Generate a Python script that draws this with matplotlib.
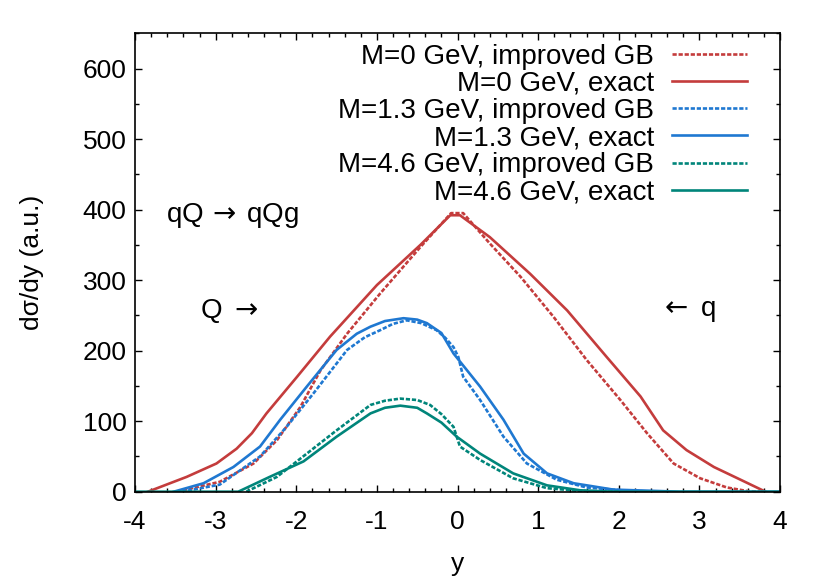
import matplotlib
matplotlib.use("Agg")
import matplotlib.pyplot as plt
from matplotlib.ticker import MultipleLocator, FuncFormatter

plt.rcParams['font.family'] = ['Liberation Sans', 'DejaVu Sans']
plt.rcParams['mathtext.fontset'] = 'dejavusans'

# colours
RED = "#c43c3c"
BLUE = "#1f78d1"
TEAL = "#00857a"

# M = 0 GeV
m0_exact_x = [-3.84, -3.36, -2.99, -2.74, -2.55, -2.37, -1.99, -1.58, -1.00, -0.46, -0.09,
              0.03, 0.40, 0.90, 1.36, 1.85, 2.27, 2.55, 2.84, 3.18, 3.51, 3.82]
m0_exact_y = [0, 21, 40, 61, 83, 111, 163, 220, 293, 350, 392,
              392, 361, 309, 257, 191, 135, 87, 59, 35, 17, 0]
m0_gb_x = [-3.48, -2.95, -2.53, -2.24, -1.95, -1.70, -1.37, -0.96, -0.46, -0.08,
           0.07, 0.40, 0.78, 1.19, 1.60, 2.02, 2.35, 2.68, 3.01, 3.34, 3.59, 3.75]
m0_gb_y = [0, 14, 40, 73, 120, 172, 224, 281, 347, 395,
           395, 352, 305, 248, 187, 130, 83, 40, 19, 6, 1, 0]

# M = 1.3 GeV
m13_exact_x = [-3.52, -3.15, -2.78, -2.45, -2.20, -1.87, -1.50, -1.25, -1.08, -0.90, -0.67,
               -0.50, -0.38, -0.20, -0.05, 0.28, 0.57, 0.82, 1.11, 1.44, 1.93, 2.76, 4.0]
m13_exact_y = [0, 12, 35, 64, 102, 149, 201, 224, 234, 242, 246,
               244, 239, 225, 196, 149, 102, 54, 26, 12, 3, 0, 0]
m13_gb_x = [-3.42, -2.95, -2.45, -2.12, -1.79, -1.37, -1.15, -0.96, -0.80, -0.63, -0.45,
            -0.26, -0.15, -0.05, 0.01, 0.07, 0.28, 0.57, 0.86, 1.23, 1.60, 2.14, 2.6]
m13_gb_y = [0, 10, 50, 92, 139, 201, 219, 229, 238, 243, 239,
            229, 218, 205, 191, 163, 130, 78, 40, 17, 6, 1, 0]

# M = 4.6 GeV
m46_exact_x = [-4.0, -2.72, -2.33, -1.91, -1.50, -1.08, -0.90, -0.71, -0.50, -0.38, -0.20,
               -0.01, 0.28, 0.69, 1.11, 1.52, 1.93, 4.0]
m46_exact_y = [0, 0, 21, 43, 78, 111, 119, 122, 119, 111, 98,
               78, 54, 26, 9, 2, 0, 0]
m46_gb_x = [-2.62, -2.24, -1.87, -1.50, -1.08, -0.90, -0.71, -0.50, -0.34, -0.20, -0.05,
            0.03, 0.28, 0.69, 1.11, 1.52, 2.0]
m46_gb_y = [0, 21, 54, 87, 123, 129, 132, 130, 123, 110, 92,
            64, 45, 19, 5, 1, 0]

fig = plt.figure(figsize=(8.3, 5.81), dpi=100)
ax = fig.add_axes([0.1627, 0.1537, 0.7771, 0.789])

lw = 1.9
dash = (1.6, 0.7)
ax.plot(m0_gb_x, m0_gb_y, color=RED, lw=lw, dashes=dash, label="M=0 GeV, improved GB")
ax.plot(m0_exact_x, m0_exact_y, color=RED, lw=lw, label="M=0 GeV, exact")
ax.plot(m13_gb_x, m13_gb_y, color=BLUE, lw=lw, dashes=dash, label="M=1.3 GeV, improved GB")
ax.plot(m13_exact_x, m13_exact_y, color=BLUE, lw=lw, label="M=1.3 GeV, exact")
ax.plot(m46_gb_x, m46_gb_y, color=TEAL, lw=lw, dashes=dash, label="M=4.6 GeV, improved GB")
ax.plot(m46_exact_x, m46_exact_y, color=TEAL, lw=lw, label="M=4.6 GeV, exact")

ax.set_xlim(-4, 4)
ax.set_ylim(0, 650)
ax.xaxis.set_major_locator(MultipleLocator(1))
ax.xaxis.set_minor_locator(MultipleLocator(0.2))
ax.yaxis.set_major_locator(MultipleLocator(100))
ax.yaxis.set_minor_locator(MultipleLocator(50))
ax.xaxis.set_major_formatter(FuncFormatter(lambda v, p: "%d" % round(v)))
ax.tick_params(which='both', direction='in', top=True, right=True, labelsize=19, width=1)
ax.tick_params(which='major', length=5)
ax.tick_params(which='minor', length=2.7)
ax.tick_params(axis='x', which='major', pad=13)
ax.tick_params(axis='y', which='major', pad=6)
for s in ax.spines.values():
    s.set_linewidth(1.2)

ax.set_xlabel("y", fontsize=19, labelpad=13)
ax.set_ylabel("dσ/dy (a.u.)", fontsize=19, labelpad=28)

ax.text(-3.62, 391, r"qQ$\,\rightarrow\,$qQg", fontsize=20, va='center', ha='left')
ax.text(-3.19, 256, r"Q $\rightarrow$", fontsize=20, va='center', ha='left')
ax.text(2.50, 256, r"$\leftarrow$ q", fontsize=20, va='center', ha='left')

ax.legend(loc='upper right', bbox_to_anchor=(0.949, 0.977), markerfirst=False,
          frameon=False, fontsize=20, handlelength=2.7, handletextpad=0.65,
          labelspacing=0.04, borderaxespad=0, borderpad=0)

fig.savefig("out.png", dpi=100)
